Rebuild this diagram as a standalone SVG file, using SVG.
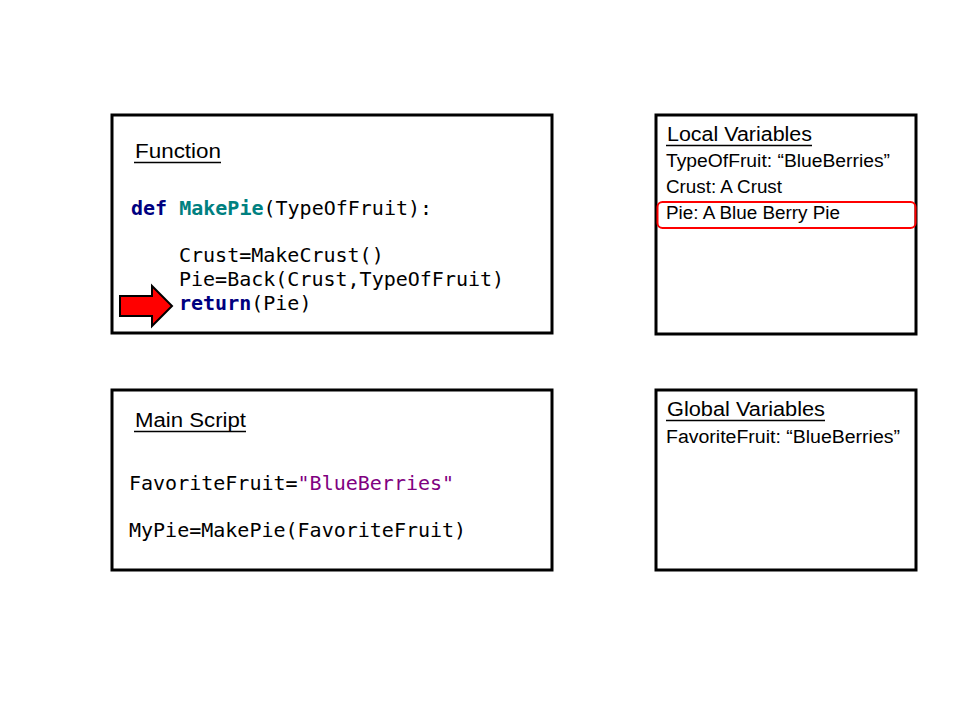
<svg xmlns="http://www.w3.org/2000/svg" width="960" height="720" viewBox="0 0 960 720">
<style>
.box{fill:#fff;stroke:#000;stroke-width:3}
.lbl{font-family:"Liberation Sans",Arial,sans-serif;font-size:18px;fill:#000}
.hd{font-family:"Liberation Sans",Arial,sans-serif;font-size:20px;fill:#000}
.ul{stroke:#000;stroke-width:1.6}
.code{font-family:"DejaVu Sans Mono","Liberation Mono",monospace;font-size:20px;fill:#000}
.kw{fill:#000080;font-weight:bold}
.fn{fill:#008080;font-weight:bold}
.str{fill:#800080}
</style>
<rect width="960" height="720" fill="#fff"/>
<g id="function">
<rect class="box" x="112" y="115" width="440" height="218"/>
<text class="hd" x="135" y="158" textLength="86" lengthAdjust="spacingAndGlyphs">Function</text>
<line class="ul" x1="134" y1="162.5" x2="221" y2="162.5"/>
<text class="code" x="131" y="215"><tspan class="kw">def</tspan> <tspan class="fn">MakePie</tspan>(TypeOfFruit):</text>
<text class="code" x="179" y="262">Crust=MakeCrust()</text>
<text class="code" x="179" y="286">Pie=Back(Crust,TypeOfFruit)</text>
<text class="code" x="179" y="310"><tspan class="kw">return</tspan>(Pie)</text>
<polygon points="120,296 152,296 152,286 172,306 152,326 152,316 120,316" fill="#f00" stroke="#000" stroke-width="2"/>
</g>
<g id="local">
<rect class="box" x="656" y="115" width="260" height="219"/>
<text class="hd" x="667" y="141" textLength="145" lengthAdjust="spacingAndGlyphs">Local Variables</text>
<line class="ul" x1="666" y1="145.5" x2="812" y2="145.5"/>
<text class="lbl" x="666" y="167" textLength="224" lengthAdjust="spacingAndGlyphs">TypeOfFruit: “BlueBerries”</text>
<text class="lbl" x="666" y="193" textLength="116" lengthAdjust="spacingAndGlyphs">Crust: A Crust</text>
<rect x="657.5" y="202" width="258" height="26" rx="5" fill="none" stroke="#f00" stroke-width="2"/>
<text class="lbl" x="666" y="219" textLength="174" lengthAdjust="spacingAndGlyphs">Pie: A Blue Berry Pie</text>
</g>
<g id="main">
<rect class="box" x="112" y="390" width="440" height="180"/>
<text class="hd" x="135" y="427" textLength="111" lengthAdjust="spacingAndGlyphs">Main Script</text>
<line class="ul" x1="134" y1="431.5" x2="246" y2="431.5"/>
<text class="code" x="129" y="490">FavoriteFruit=<tspan class="str">"BlueBerries"</tspan></text>
<text class="code" x="129" y="537">MyPie=MakePie(FavoriteFruit)</text>
</g>
<g id="global">
<rect class="box" x="656" y="390" width="260" height="180"/>
<text class="hd" x="667" y="416" textLength="158" lengthAdjust="spacingAndGlyphs">Global Variables</text>
<line class="ul" x1="666" y1="420.5" x2="825" y2="420.5"/>
<text class="lbl" x="666" y="443" textLength="234" lengthAdjust="spacingAndGlyphs">FavoriteFruit: “BlueBerries”</text>
</g>
<g id="connectors"></g>
</svg>
